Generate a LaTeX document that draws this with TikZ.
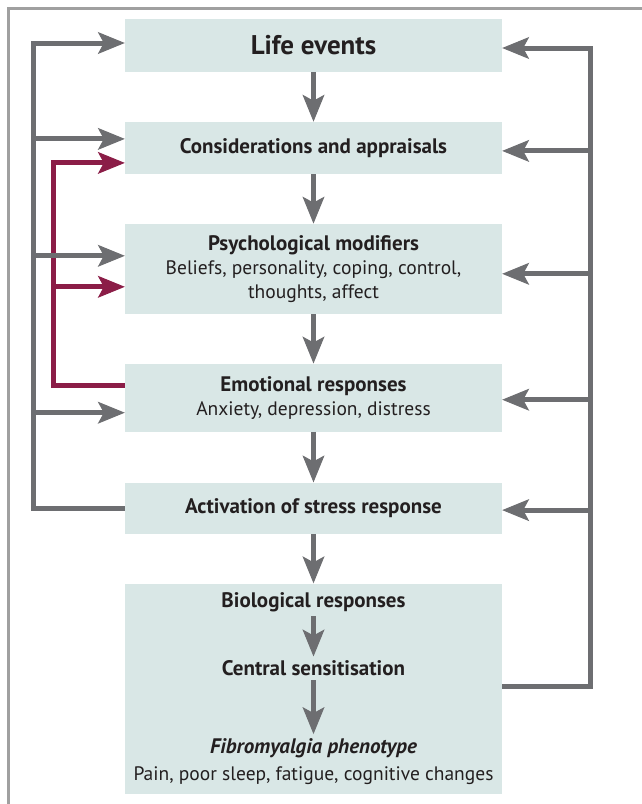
\documentclass[tikz,border=0pt]{standalone}
\usepackage{fontspec}
\setmainfont{PT Sans}
\usetikzlibrary{positioning, arrows.meta}

\definecolor{boxfill}{HTML}{D9E7E6}
\definecolor{linegray}{HTML}{6D6E71}
\definecolor{linered}{HTML}{8B1D47}
\definecolor{framegray}{HTML}{A0A0A0}
\definecolor{textblack}{HTML}{231F20}

\newcommand{\headfont}{\fontsize{21}{24}\selectfont\bfseries}

\begin{document}
\begin{tikzpicture}[x=1pt, y=1pt, node distance=49.5pt,
    >={Stealth[length=27pt, width=22pt, inset=6pt, line width=1pt]},
    box/.style={fill=boxfill, minimum width=377pt, inner sep=0pt, align=center,
                text=textblack, font=\fontsize{19.5}{24}\selectfont},
    inner text/.style={inner sep=4pt, align=center, text=textblack,
                font=\fontsize{19.5}{27}\selectfont},
    flow/.style={->, color=linegray, line width=5pt},
    grayline/.style={color=linegray, line width=5pt},
    redline/.style={color=linered, line width=5pt}]

\useasboundingbox (0,0) rectangle (642,-804);

% Outer frame
	\draw[framegray, line width=3pt] (8,-804) |- (642,-8);

% Boxes
	\node (life)		[box, minimum height=53pt, font=\fontsize{27}{30}\selectfont\bfseries] at (313.5,-45.5) {Life events};
	\node (consider)	[box, minimum height=52pt, below=of life]		{\headfont Considerations and appraisals};
	\node (modif)		[box, minimum height=90pt, below=of consider]	{{\headfont Psychological modifiers}\\ Beliefs, personality, coping, control,\\ thoughts, affect};
	\node (emotion)		[box, minimum height=68pt, below=of modif]		{{\headfont Emotional responses}\\ Anxiety, depression, distress};
	\node (stress)		[box, minimum height=51pt, below=50.5pt of emotion]	{\headfont Activation of stress response};
	\node (bio_box)		[box, minimum height=210pt, below=of stress]	{};

% Inside the last box
	\node (bio)		[inner text] at ([yshift=-19pt]bio_box.north)	{\headfont Biological responses};
	\node (central)	[inner text] at ([yshift=-85pt]bio_box.north)	{\headfont Central sensitisation};
	\node (pheno)	[inner text] at ([yshift=-178pt]bio_box.north)	{{\headfont\itshape Fibromyalgia phenotype}\\ Pain, poor sleep, fatigue, cognitive changes};

% Rails
	\coordinate (left_rail)	at (33,0);
	\coordinate (red_rail)	at (53,0);
	\coordinate (right_rail)	at (590,0);

% Main flow
	\path[flow]
		(life)		edge (consider)
		(consider)	edge (modif)
		(modif)		edge (emotion)
		(emotion)	edge (stress)
		(stress)	edge (bio_box)
		(bio)		edge (central)
		(central)	edge (pheno)
	;

% Red feedback
	\draw[redline, ->] ([yshift=12pt]emotion.west) -| ([yshift=-15pt]red_rail |- consider.west) -- ([yshift=-15pt]consider.west);
	\draw[redline, ->] ([yshift=-18pt]red_rail |- modif.west) -- ([yshift=-18pt]modif.west);

% Left feedback
	\draw[grayline, ->] (stress.west) -| ([yshift=2.5pt]left_rail |- life.west) -- ([yshift=2.5pt]life.west);
	\draw[grayline, ->] ([yshift=9pt]left_rail |- consider.west) -- ([yshift=9pt]consider.west);
	\draw[grayline, ->] ([yshift=13pt]left_rail |- modif.west) -- ([yshift=13pt]modif.west);
	\draw[grayline, ->] ([yshift=-15pt]left_rail |- emotion.west) -- ([yshift=-15pt]emotion.west);

% Right feedback
	\draw[grayline, ->] ([yshift=2pt]bio_box.east) -| ([yshift=-2.5pt]right_rail |- life.east) -- ([yshift=-2.5pt]life.east);
	\draw[grayline, ->] ([yshift=-3pt]right_rail |- consider.east) -- ([yshift=-3pt]consider.east);
	\draw[grayline, ->] ([yshift=-5pt]right_rail |- modif.east) -- ([yshift=-5pt]modif.east);
	\draw[grayline, ->] ([yshift=-2pt]right_rail |- emotion.east) -- ([yshift=-2pt]emotion.east);
	\draw[grayline, ->] ([yshift=-2pt]right_rail |- stress.east) -- ([yshift=-2pt]stress.east);

\end{tikzpicture}
\end{document}
